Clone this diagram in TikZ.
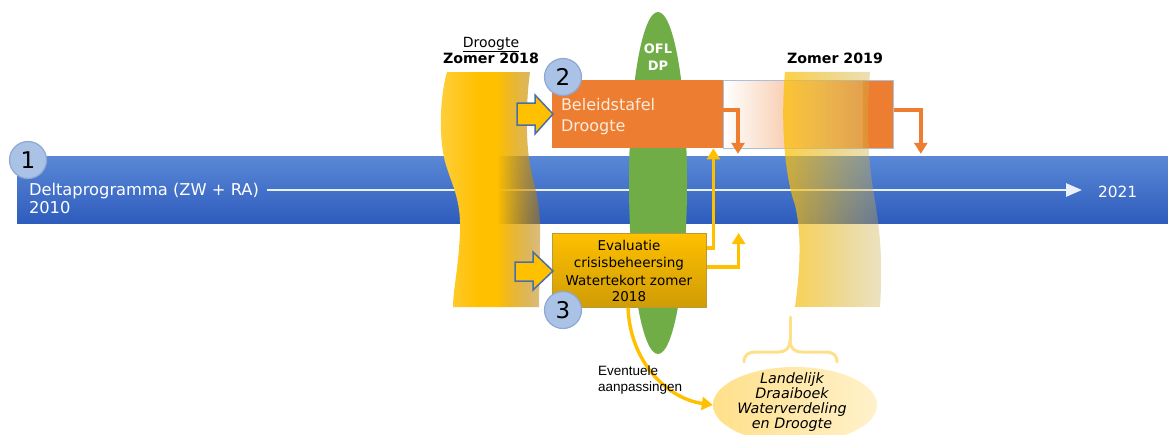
\documentclass[tikz,border=0pt]{standalone}
\usepackage{fontspec}
\setmainfont{DejaVu Sans}
\newfontfamily\arialf{Liberation Sans}
\usetikzlibrary{fadings,arrows.meta,shapes.geometric,calc}
\definecolor{bandtop}{HTML}{5A88D6}
\definecolor{bandbot}{HTML}{2E5CBD}
\definecolor{orangeC}{HTML}{ED7D31}
\definecolor{goldC}{HTML}{FFC000}
\definecolor{goldL}{HTML}{FFD24A}
\definecolor{goldD}{HTML}{CF9C05}
\definecolor{goldB}{HTML}{B89A3A}
\definecolor{greenC}{HTML}{70AD47}
\definecolor{circfill}{HTML}{A9C2E5}
\definecolor{circdraw}{HTML}{8EA8D2}
\definecolor{arrowblue}{HTML}{4A6FA8}
\definecolor{extB}{HTML}{A8C0E0}
\definecolor{bandR}{HTML}{B07400}
\definecolor{rbL}{HTML}{FFC000}
\definecolor{rbM}{HTML}{F2D27A}
\definecolor{rbR}{HTML}{C8AD4E}
\definecolor{braceC}{HTML}{FFE08A}
\definecolor{beleidT}{HTML}{FDEBDD}
\tikzfading[name=lbfade, left color=transparent!0, right color=transparent!55]
\tikzfading[name=rbfade, left color=transparent!25, right color=transparent!65]
\begin{document}
\begin{tikzpicture}[x=1pt,y=-1pt,
  lab/.style={inner sep=0pt, outer sep=0pt},
  numc/.style={circle, fill=circfill, draw=circdraw, line width=1.2pt, minimum size=37pt, inner sep=0pt, font=\fontsize{23}{23}\selectfont},
  ocon/.style={draw=orangeC, line width=3.4pt, -{Triangle[length=11pt,width=13pt]}},
  ycon/.style={draw=goldC, line width=3.4pt, -{Triangle[length=11pt,width=13pt]}},
  blockarrow/.style={fill=goldC, draw=arrowblue, line width=1.5pt, line join=miter},
  boxtext/.style={lab, anchor=base, font=\fontsize{13.5}{13.5}\selectfont},
  elltext/.style={lab, anchor=base, font=\itshape\fontsize{14.3}{14.3}\selectfont},
  whitetext/.style={lab, anchor=base west, text=white, font=\fontsize{16.3}{16.3}\selectfont},
]
\useasboundingbox (0,0) rectangle (1168,434);
% blue band
\node[rectangle, minimum width=1151pt, minimum height=67pt, anchor=north west, inner sep=0pt, top color=bandtop, bottom color=bandbot] (band) at (17,156) {};
\node[whitetext] (dp) at (29,195) {Deltaprogramma (ZW + RA)};
\node[whitetext] (y2010) at (29,213) {2010};
\node[whitetext, font=\fontsize{15.4}{15.4}\selectfont] (y2021) at (1098,197) {2021};
\coordinate (lstart) at (267,190);
\coordinate (lend) at (1082,190);
\draw[white!88!bandtop, line width=2.6pt, -{Triangle[length=16pt,width=13pt]}] (lstart) -- (lend);
% green ellipse
\node[ellipse, fill=greenC, minimum width=58pt, minimum height=342pt, inner sep=0pt] (ofl) at (658,183) {};
\node[lab, anchor=base, text=white, font=\bfseries\fontsize{13}{13}\selectfont] (ofl1) at (658,53) {OFL};
\node[lab, anchor=base, text=white, font=\bfseries\fontsize{13}{13}\selectfont] (ofl2) at (658,70) {DP};
% left yellow band
\begin{scope}
\clip (447,72) -- (530,72) .. controls (525,110) and (526,150) .. (532,175)
  .. controls (537,195) and (541,210) .. (540,240)
  .. controls (540,270) and (539,290) .. (539,307)
  -- (453,307) .. controls (453,290) and (459,265) .. (460,230)
  .. controls (461,200) and (452,185) .. (446,165)
  .. controls (438,140) and (440,95) .. (447,72) -- cycle;
\shade[left color=goldL, right color=goldC] (430,60) rectangle (478,320);
\fill[goldC] (477,60) rectangle (498,320);
\shade[left color=goldC, right color=bandR, path fading=lbfade] (497,60) rectangle (544,320);
\end{scope}
% orange box and extension
\node[rectangle, fill=orangeC, minimum width=171pt, minimum height=68pt, anchor=north west, inner sep=0pt] (beleid) at (552,80) {};
\node[rectangle, left color=white, right color=orangeC, draw=extB, line width=0.8pt, minimum width=170pt, minimum height=68pt, anchor=north west, inner sep=0pt] (ext) at (723,80) {};
\node[rectangle, fill=orangeC, minimum width=30pt, minimum height=67pt, anchor=north east, inner sep=0pt] (extend) at (893,80.5) {};
\node[lab, anchor=base west, text=beleidT, font=\fontsize{16}{16}\selectfont] (bt1) at (561,110) {Beleidstafel};
\node[lab, anchor=base west, text=beleidT, font=\fontsize{16}{16}\selectfont] (bt2) at (561,131) {Droogte};
% right yellow band
\shade[left color=rbL, middle color=rbM, right color=rbR, path fading=rbfade]
  (785,72) -- (870,72) .. controls (866,120) and (868,160) .. (874,195)
  .. controls (880,230) and (883,260) .. (880,307)
  -- (795,307) .. controls (800,270) and (802,235) .. (795,205)
  .. controls (786,180) and (780,130) .. (785,72) -- cycle;
% evaluatie box
\node[rectangle, top color=goldC, bottom color=goldD, draw=goldB, line width=0.6pt, minimum width=154pt, minimum height=74pt, anchor=north west, inner sep=0pt] (eval) at (552,233) {};
\node[boxtext] (e1) at (629,250) {Evaluatie};
\node[boxtext] (e2) at (629,267) {crisisbeheersing};
\node[boxtext] (e3) at (629,285) {Watertekort zomer};
\node[boxtext] (e4) at (629,301) {2018};
% block arrows
\path[blockarrow] (517,103) -- (535,103) -- (535,95) -- (553,114) -- (535,134) -- (535,125) -- (517,125) -- cycle;
\path[blockarrow] (515,262) -- (533,262) -- (533,252) -- (553,271) -- (533,290) -- (533,281) -- (515,281) -- cycle;
% connectors
\draw[ocon] ($(beleid.north east)+(0,30)$) -| ($(ext.south west)+(15,5)$);
\draw[ocon] ($(ext.north east)+(0,30)$) -| ($(ext.south east)+(27,5)$);
\draw[ycon] ($(eval.north east)+(0,15)$) -| ($(beleid.south east)+(-10,0)$);
\draw[ycon] ($(eval.north east)+(0,34)$) -| ($(eval.north east)+(32,0)$);
% draaiboek ellipse
\node[ellipse, left color=braceC, right color=braceC!45, minimum width=164pt, minimum height=76pt, inner sep=0pt] (draai) at (795,405) {};
\node[elltext] (d1) at (792,383) {Landelijk};
\node[elltext] (d2) at (792,398) {Draaiboek};
\node[elltext] (d3) at (792,413) {Waterverdeling};
\node[elltext] (d4) at (792,428) {en Droogte};
\draw[ycon] ($(eval.south west)+(76,0)$) .. controls (630,360) and (665,398) .. (draai.west);
\node[lab, anchor=base west, font=\arialf\fontsize{13.5}{13.5}\selectfont] (ev1) at (598,375) {Eventuele};
\node[lab, anchor=base west, font=\arialf\fontsize{13.5}{13.5}\selectfont] (ev2) at (598,391) {aanpassingen};
% brace
\coordinate (btop) at (790,317);
\draw[braceC, line width=3pt, line cap=round, line join=round]
  (744,362) .. controls (744,355) and (748,352) .. (756,352) -- (778,352)
  .. controls (786,352) and (790,348) .. (790,340)
  .. controls (790,348) and (794,352) .. (802,352) -- (825,352)
  .. controls (833,352) and (837,355) .. (837,362);
\draw[braceC, line width=3pt, line cap=round] (790,341) -- (btop);
% numbered circles
\node[numc] (c1) at (28,160) {1};
\node[numc] (c2) at (563,77) {2};
\node[numc] (c3) at (563,310) {3};
% headings
\node[lab, anchor=base, font=\fontsize{14}{14}\selectfont] (dr) at (491,47) {\underline{Droogte}};
\node[lab, anchor=base, font=\bfseries\fontsize{14.2}{14.2}\selectfont] (z18) at (491,63) {Zomer 2018};
\node[lab, anchor=base, font=\bfseries\fontsize{14.2}{14.2}\selectfont] (z19) at (835,63) {Zomer 2019};
\end{tikzpicture}
\end{document}
